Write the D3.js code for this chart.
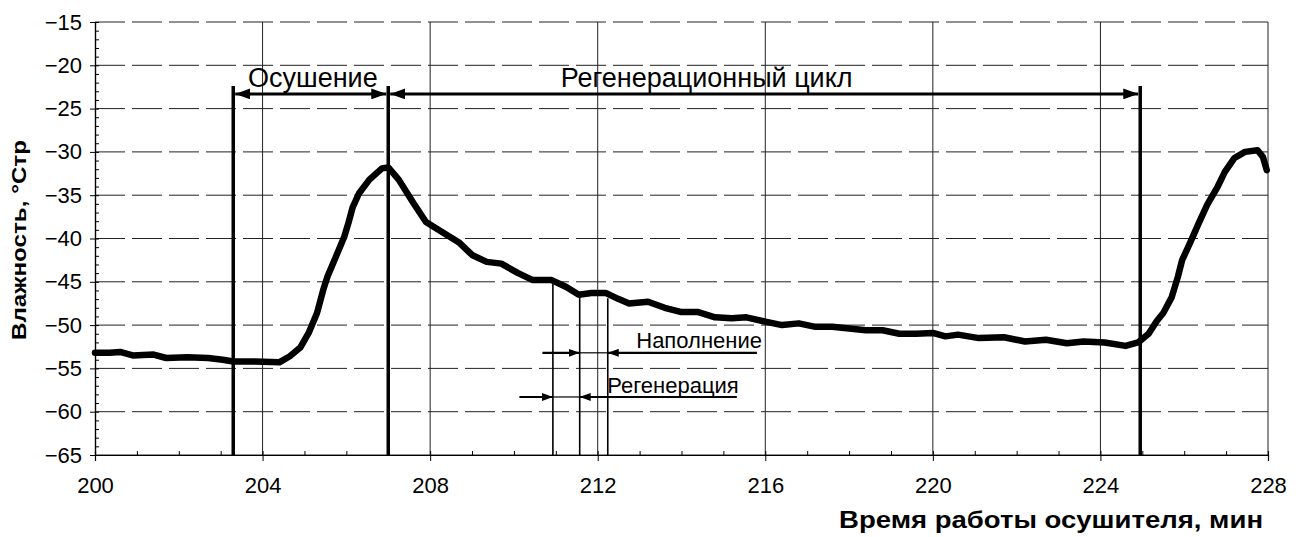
<!DOCTYPE html>
<html>
<head>
<meta charset="utf-8">
<script src="https://cdn.jsdelivr.net/npm/d3@7"></script>
<style>
  body { margin: 0; background: #fff; }
  text { font-family: Arial, "Liberation Sans", sans-serif; fill: #000; }
</style>
</head>
<body>
<div id="chart"></div>
<script>
// curve
var timeMin = [200.0, 200.35, 200.6, 200.9, 201.4, 201.7, 202.2, 202.7, 203.05, 203.3, 203.8, 204.4,
  204.65, 204.9, 205.1, 205.3, 205.45, 205.55, 205.75, 205.95, 206.05, 206.15, 206.3, 206.55, 206.85,
  207.0, 207.25, 207.6, 207.9, 208.4, 208.7, 209.0, 209.35, 209.7, 210.1, 210.45, 210.9, 211.25,
  211.55, 211.85, 212.2, 212.5, 212.75, 213.2, 213.6, 214.0, 214.4, 214.8, 215.2, 215.55, 216.0,
  216.4, 216.8, 217.2, 217.6, 218.0, 218.4, 218.8, 219.2, 219.6, 220.0, 220.3, 220.6, 221.1, 221.7,
  222.2, 222.7, 223.2, 223.6, 224.1, 224.6, 224.9, 225.15, 225.35, 225.5, 225.7, 225.85, 225.95,
  226.15, 226.35, 226.55, 226.8, 226.97, 227.2, 227.45, 227.75, 227.88, 227.97];
var humidity = [-53.2, -53.2, -53.1, -53.5, -53.4, -53.8, -53.7, -53.8, -54.0, -54.2, -54.2, -54.3,
  -53.6, -52.6, -50.9, -48.6, -45.9, -44.4, -42.1, -39.8, -38.2, -36.4, -34.8, -33.2, -31.9,
  -31.8, -33.2, -35.9, -38.1, -39.6, -40.5, -41.9, -42.7, -42.9, -44.0, -44.8, -44.8, -45.6,
  -46.5, -46.3, -46.3, -47.0, -47.5, -47.3, -48.0, -48.5, -48.5, -49.1, -49.2, -49.1, -49.6,
  -50.0, -49.8, -50.2, -50.2, -50.4, -50.6, -50.6, -51.0, -51.0, -50.9, -51.3, -51.1, -51.5, -51.4,
  -51.9, -51.7, -52.1, -51.9, -52.0, -52.4, -52.0, -51.0, -49.5, -48.6, -46.8, -44.4, -42.5,
  -40.4, -38.2, -36.1, -34.0, -32.3, -30.7, -30.0, -29.8, -30.6, -32.1];

var xTicks = [200, 204, 208, 212, 216, 220, 224, 228];
var yTicks = [-65, -60, -55, -50, -45, -40, -35, -30, -25, -20, -15];

// phase boundaries and labels
var phaseEdges = [203.3, 207.0, 224.95];
var phaseLabels = ["Осушение", "Регенерационный цикл"];
var phaseLabelX = [205.2, 214.6];
var phaseTop = -22.4, phaseArrowY = -23.3, phaseTextY = -22.5;

// fill / regeneration markers
var stepTimes = [210.93, 211.57, 212.24];
var stepTops = [-45.1, -46.5, -46.9];
var fillLabel = "Наполнение", regenLabel = "Регенерация";
var fillArrow = {y: -53.2, from: 210.68, head1: 211.57, head2: 212.24, to: 215.8, textX: 212.92, textY: -52.6};
var regenArrow = {y: -58.3, from: 210.13, head1: 210.93, head2: 211.57, to: 215.32, textX: 212.23, textY: -57.8};

var margin = {top: 22, right: 28, bottom: 82, left: 95},
  width = 1296 - margin.left - margin.right,
  height = 537 - margin.top - margin.bottom;

var svg = d3.select("#chart").append("svg")
  .attr("width", 1296).attr("height", 537)
  .style("display", "block");

var defs = svg.append("defs");
function marker(id, len, wid) {
  defs.append("marker").attr("id", id)
    .attr("viewBox", "0 0 " + len + " " + wid)
    .attr("refX", len).attr("refY", wid / 2)
    .attr("markerWidth", len).attr("markerHeight", wid)
    .attr("markerUnits", "userSpaceOnUse")
    .attr("orient", "auto-start-reverse")
    .append("path").attr("d", "M0,0L" + len + "," + wid / 2 + "L0," + wid + "Z").attr("fill", "#000");
}
marker("bigHead", 15, 11);
marker("smallHead", 11, 8);

var g = svg.append("g").attr("transform", "translate(" + margin.left + "," + margin.top + ")");

var x = d3.scaleLinear().domain([200, 228]).range([0, width]);
var y = d3.scaleLinear().domain([-65, -15]).range([height, 0]);

// grid
g.selectAll(".hgrid").data(yTicks).enter().append("line")
  .attr("x1", 0).attr("x2", width)
  .attr("y1", function(d) { return y(d); }).attr("y2", function(d) { return y(d); })
  .attr("stroke", "#222").attr("stroke-width", 1)
  .attr("stroke-dasharray", function(d) { return d == -65 ? null : "30,7"; });
g.selectAll(".vgrid").data(xTicks.slice(1)).enter().append("line")
  .attr("x1", function(d) { return x(d); }).attr("x2", function(d) { return x(d); })
  .attr("y1", 0).attr("y2", height)
  .attr("stroke", "#222").attr("stroke-width", 1);

// axes
var yAxis = g.append("g")
  .call(d3.axisLeft(y).tickValues(yTicks).tickSize(5).tickPadding(8).tickFormat(d3.format("d")));
var yMinor = g.append("g")
  .call(d3.axisRight(y).tickValues(d3.range(-65, -14, 1)).tickSize(4).tickFormat(""));
var xAxis = g.append("g").attr("transform", "translate(0," + height + ")")
  .call(d3.axisBottom(x).tickValues(xTicks).tickSize(6).tickPadding(16).tickFormat(d3.format("d")));
var xMinor = g.append("g").attr("transform", "translate(0," + height + ")")
  .call(d3.axisTop(x).tickValues(d3.range(200, 229, 1)).tickSize(4).tickFormat(""));
[yAxis, yMinor, xAxis, xMinor].forEach(function(a) {
  a.select(".domain").attr("stroke", "#000").attr("stroke-width", 1.2);
  a.selectAll(".tick line").attr("stroke", "#000");
  a.selectAll("text").style("font-size", "22px").attr("fill", "#000");
});

// humidity curve
var line = d3.line()
  .x(function(d, i) { return x(timeMin[i]); })
  .y(function(d) { return y(d); });
g.append("path").datum(humidity)
  .attr("d", line)
  .attr("fill", "none").attr("stroke", "#000")
  .attr("stroke-width", 6.5).attr("stroke-linejoin", "round").attr("stroke-linecap", "round");

// phase boundaries
g.selectAll(".phase").data(phaseEdges).enter().append("line")
  .attr("x1", function(d) { return x(d); }).attr("x2", function(d) { return x(d); })
  .attr("y1", y(phaseTop)).attr("y2", height)
  .attr("stroke", "#000").attr("stroke-width", 3.5);

phaseLabels.forEach(function(lab, i) {
  var a = phaseEdges[i], b = phaseEdges[i + 1];
  g.append("line")
    .attr("x1", x(a) + 2).attr("x2", x(b) - 2)
    .attr("y1", y(phaseArrowY)).attr("y2", y(phaseArrowY))
    .attr("stroke", "#000").attr("stroke-width", 3)
    .attr("marker-start", "url(#bigHead)").attr("marker-end", "url(#bigHead)");
  g.append("text")
    .attr("x", x(phaseLabelX[i])).attr("y", y(phaseTextY))
    .attr("text-anchor", "middle")
    .style("font-size", "27px")
    .text(lab);
});

// fill / regeneration step lines
g.selectAll(".step").data(stepTimes).enter().append("line")
  .attr("x1", function(d) { return x(d); }).attr("x2", function(d) { return x(d); })
  .attr("y1", function(d, i) { return y(stepTops[i]); }).attr("y2", height)
  .attr("stroke", "#000").attr("stroke-width", 1.6);

[[fillArrow, fillLabel], [regenArrow, regenLabel]].forEach(function(p) {
  var s = p[0], yy = y(s.y);
  g.append("line").attr("x1", x(s.from)).attr("x2", x(s.head1)).attr("y1", yy).attr("y2", yy)
    .attr("stroke", "#000").attr("stroke-width", 2.2).attr("marker-end", "url(#smallHead)");
  g.append("line").attr("x1", x(s.head1)).attr("x2", x(s.head2)).attr("y1", yy).attr("y2", yy)
    .attr("stroke", "#000").attr("stroke-width", 1.2);
  g.append("line").attr("x1", x(s.to)).attr("x2", x(s.head2)).attr("y1", yy).attr("y2", yy)
    .attr("stroke", "#000").attr("stroke-width", 2.2).attr("marker-end", "url(#smallHead)");
  g.append("text").attr("x", x(s.textX)).attr("y", y(s.textY))
    .style("font-size", "22px").text(p[1]);
});

// axis titles
svg.append("text")
  .attr("transform", "translate(26,240) rotate(-90)")
  .attr("text-anchor", "middle")
  .style("font-size", "21px").style("font-weight", "bold")
  .attr("textLength", 200).attr("lengthAdjust", "spacingAndGlyphs")
  .text("Влажность, °Стр");
svg.append("text")
  .attr("x", 1263).attr("y", 528)
  .attr("text-anchor", "end")
  .style("font-size", "23px").style("font-weight", "bold")
  .attr("textLength", 424).attr("lengthAdjust", "spacingAndGlyphs")
  .text("Время работы осушителя, мин");
</script>
</body>
</html>
